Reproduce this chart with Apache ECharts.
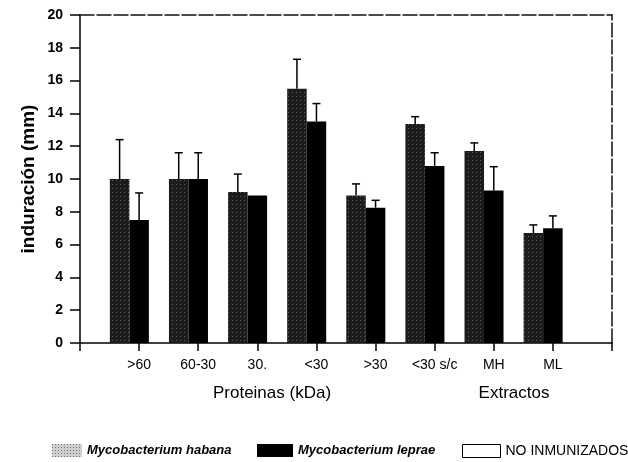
<!DOCTYPE html>
<html style="height: 100%">
<head>
  <meta charset="utf-8">
</head>
<body style="height: 100%; margin: 0; background: #fff">
  <div id="container" style="width: 628px; height: 462px"></div>
  <script src="https://cdn.jsdelivr.net/npm/echarts@6/dist/echarts.min.js"></script>
  <script>
    // grupos del eje x (posiciones vacias a los extremos)
    var groups = ['>60', '60-30', '30.', '<30', '>30', '<30 s/c', 'MH', 'ML'];
    var yTicks = [0, 2, 4, 6, 8, 10, 12, 14, 16, 18, 20];

    // induracion media (mm) y extremo superior del error
    var habana = [10, 10, 9.2, 15.5, 9.0, 13.35, 11.7, 6.7];
    var habanaErr = [12.4, 11.6, 10.3, 17.3, 9.7, 13.8, 12.2, 7.2];
    var leprae = [7.5, 10, 9.0, 13.5, 8.25, 10.8, 9.3, 7.0];
    var lepraeErr = [9.15, 11.6, 9.0, 14.6, 8.7, 11.6, 10.75, 7.75];
    var noInmunizados = [0, 0, 0, 0, 0, 0, 0, 0];

    var FONT = 'Liberation Sans';
    var BAR_RATIO = 0.33;

    var cats = [''].concat(groups, ['']);
    function pad(arr) { return ['-'].concat(arr, ['-']); }
    function errData(vals, tops) {
      return vals.map(function (v, i) { return [i + 1, v, tops[i]]; });
    }
    // barra de error hacia arriba con tope en T
    function errorBar(slot) {
      return function (params, api) {
        var cat = api.value(0);
        var base = api.coord([cat, api.value(1)]);
        var tip = api.coord([cat, api.value(2)]);
        if (api.value(2) <= api.value(1)) return null;
        var band = api.size([1, 0])[0];
        var x = base[0] + (slot - 1) * band * BAR_RATIO;
        var st = { stroke: '#000', lineWidth: 1.5 };
        return {
          type: 'group',
          children: [
            { type: 'line', shape: { x1: x, y1: base[1], x2: x, y2: tip[1] }, style: st },
            { type: 'line', shape: { x1: x - 4, y1: tip[1], x2: x + 4, y2: tip[1] }, style: st }
          ]
        };
      };
    }

    var speckle = {
      symbol: 'rect', symbolSize: 1,
      dashArrayX: [[1, 3]], dashArrayY: [1, 3],
      color: 'rgba(170,170,170,0.45)'
    };

    var legendText = { fontFamily: FONT, fontSize: 13, fontWeight: 'bold', fontStyle: 'italic', color: '#000' };

    var myChart = echarts.init(document.getElementById('container'));
    var option = {
      animation: false,
      grid: { left: 80, right: 16, top: 15, bottom: 119 },
      legend: [
        {
          left: 47, top: 439, itemWidth: 30, itemHeight: 13, itemGap: 0, icon: 'rect',
          textStyle: legendText,
          data: [{ name: 'Mycobacterium habana', itemStyle: { color: '#cfcfcf', decal: { symbol: 'rect', symbolSize: 1, dashArrayX: [[1, 2]], dashArrayY: [1, 2], color: '#777' } } }]
        },
        {
          left: 252, top: 439, itemWidth: 36, itemHeight: 13, icon: 'rect',
          textStyle: legendText,
          data: ['Mycobacterium leprae']
        },
        {
          left: 457, top: 439, itemWidth: 38, itemHeight: 13, icon: 'rect',
          textStyle: { fontFamily: FONT, fontSize: 14, color: '#000' },
          data: [{ name: 'NO INMUNIZADOS', itemStyle: { color: '#fff', borderColor: '#000', borderWidth: 1 } }]
        }
      ],
      xAxis: [
        {
          type: 'category',
          data: cats,
          boundaryGap: false,
          axisLine: { lineStyle: { color: '#000', width: 1.5 } },
          axisTick: { length: 8, interval: 0, lineStyle: { color: '#000', width: 1.5 } },
          axisLabel: { interval: 0, margin: 15, fontFamily: FONT, fontSize: 14, color: '#000' }
        },
        {
          type: 'value', position: 'top', min: 0, max: 1,
          axisLine: { show: true, onZero: false, lineStyle: { color: '#111', type: [14, 3], width: 1.5 } },
          axisTick: { show: false }, axisLabel: { show: false }, splitLine: { show: false }
        }
      ],
      yAxis: [
        {
          type: 'value', min: yTicks[0], max: yTicks[yTicks.length - 1], interval: 2,
          name: 'induración (mm)', nameLocation: 'middle', nameGap: 42, nameMoveOverlap: false,
          nameTextStyle: { fontFamily: FONT, fontSize: 19, fontWeight: 'bold', color: '#000' },
          axisLine: { show: true, lineStyle: { color: '#000', width: 1.5 } },
          axisTick: { show: true, length: 10, lineStyle: { color: '#000', width: 1.5 } },
          axisLabel: { margin: 17, fontFamily: FONT, fontSize: 14, fontWeight: 'bold', color: '#000' },
          splitLine: { show: false }
        },
        {
          type: 'value', position: 'right', min: 0, max: 20,
          axisLine: { show: true, onZero: false, lineStyle: { color: '#111', type: [14, 3], width: 1.5 } },
          axisTick: { show: false }, axisLabel: { show: false }, splitLine: { show: false }
        }
      ],
      graphic: [
        { type: 'text', x: 272, y: 393, style: { text: 'Proteinas (kDa)', fontFamily: FONT, fontSize: 17, fill: '#000', align: 'center', verticalAlign: 'middle' } },
        { type: 'text', x: 514, y: 393, style: { text: 'Extractos', fontFamily: FONT, fontSize: 17, fill: '#000', align: 'center', verticalAlign: 'middle' } }
      ],
      series: [
        {
          name: 'Mycobacterium habana', type: 'bar', barWidth: '33%', barGap: '0%',
          itemStyle: { color: '#1c1c1c', decal: speckle },
          data: pad(habana)
        },
        {
          name: 'Mycobacterium leprae', type: 'bar', barWidth: '33%', barGap: '0%',
          itemStyle: { color: '#000' },
          data: pad(leprae)
        },
        {
          name: 'NO INMUNIZADOS', type: 'bar', barWidth: '33%', barGap: '0%',
          itemStyle: { color: '#fff' },
          data: pad(noInmunizados)
        },
        {
          type: 'custom', renderItem: errorBar(0), z: 5,
          encode: { x: 0, y: 1 }, data: errData(habana, habanaErr)
        },
        {
          type: 'custom', renderItem: errorBar(1), z: 5,
          encode: { x: 0, y: 1 }, data: errData(leprae, lepraeErr)
        }
      ]
    };
    myChart.setOption(option);
  </script>
</body>
</html>
